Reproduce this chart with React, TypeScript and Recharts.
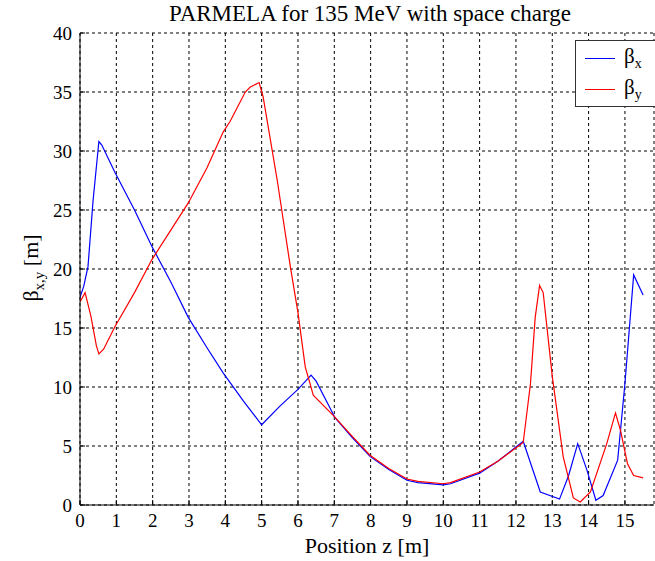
import React from "react";
import { LineChart, Line, XAxis, YAxis, CartesianGrid } from "recharts";

// beta_x samples (position z in m, beta in m)
const betaXz = [0, 0.1, 0.22, 0.36, 0.52, 0.6, 0.96, 1.5, 1.98, 2.5, 2.98, 3.5, 3.94, 4.5, 5.0, 5.51, 6.0, 6.36, 6.5, 7.02, 7.5, 7.99, 8.5, 9.0, 9.3, 10.0, 10.2, 11.0, 11.5, 12.2, 12.67, 13.2, 13.45, 13.7, 13.95, 14.2, 14.4, 14.8, 15.0, 15.24, 15.5];
const betaXv = [17.6, 18.5, 20.2, 25.8, 30.8, 30.5, 28.2, 25.0, 21.9, 18.9, 15.9, 13.3, 11.2, 8.8, 6.8, 8.4, 9.8, 11.0, 10.5, 7.4, 5.7, 4.1, 3.0, 2.1, 1.9, 1.7, 1.8, 2.7, 3.7, 5.4, 1.1, 0.5, 2.5, 5.2, 3.0, 0.4, 0.8, 3.8, 10.3, 19.5, 17.8];

// beta_y samples
const betaYz = [0, 0.14, 0.3, 0.45, 0.52, 0.65, 0.96, 1.5, 1.98, 2.5, 2.98, 3.5, 3.94, 4.13, 4.55, 4.68, 4.93, 5.04, 5.43, 5.79, 6.0, 6.2, 6.34, 6.42, 6.97, 7.5, 7.99, 8.5, 9.0, 9.3, 10.0, 10.2, 11.0, 11.5, 12.2, 12.4, 12.53, 12.65, 12.75, 13.0, 13.3, 13.58, 13.77, 14.05, 14.5, 14.74, 14.88, 15.07, 15.24, 15.5];
const betaYv = [17.2, 18.0, 16.0, 13.5, 12.8, 13.2, 15.1, 18.0, 20.8, 23.3, 25.6, 28.6, 31.6, 32.5, 35.0, 35.4, 35.8, 34.6, 27.5, 20.2, 16.3, 11.7, 10.2, 9.3, 7.6, 5.8, 4.2, 3.1, 2.2, 2.0, 1.8, 1.9, 2.8, 3.7, 5.3, 10.3, 15.9, 18.6, 18.0, 10.9, 4.1, 0.6, 0.25, 1.1, 5.2, 7.8, 6.3, 3.5, 2.5, 2.3];

const xTicks = [0, 1, 2, 3, 4, 5, 6, 7, 8, 9, 10, 11, 12, 13, 14, 15];
const yTicks = [0, 5, 10, 15, 20, 25, 30, 35, 40];

const font = "'Liberation Serif', 'DejaVu Serif', 'Times New Roman', Times, serif";

const betaX = betaXz.map((z, i) => ({ z, beta: betaXv[i] }));
const betaY = betaYz.map((z, i) => ({ z, beta: betaYv[i] }));

const XTick = ({ x, y, payload }: any) => (
    <g>
        <line x1={x} x2={x} y1={y - 8} y2={y - 13} stroke="#000" />
        <text x={x} y={y} dy="0.75em" textAnchor="middle" fontSize={19} fontFamily={font} fill="#000">
            {payload.value}
        </text>
    </g>
);

const YTick = ({ x, y, payload }: any) => (
    <g>
        <line x1={x + 8} x2={x + 13} y1={y} y2={y} stroke="#000" />
        <text x={x} y={y} dy="0.35em" textAnchor="end" fontSize={19} fontFamily={font} fill="#000">
            {payload.value}
        </text>
    </g>
);

const TopTick = ({ x, y }: any) => <line x1={x} x2={x} y1={y} y2={y + 5} stroke="#000" />;

const LegendBox = () => (
    <div
        style={{
            position: "absolute",
            left: 575,
            top: 40,
            border: "1px solid #333",
            background: "#fff",
            width: 90,
            height: 67,
            boxSizing: "border-box",
            fontFamily: font,
        }}
    >
        {[
            { color: "#0000ff", sub: "x", top: 17 },
            { color: "#ff0000", sub: "y", top: 48 },
        ].map((item) => (
            <div key={item.sub} style={{ position: "absolute", left: 9, top: item.top - 14, height: 28, display: "flex", alignItems: "center" }}>
                <span style={{ display: "inline-block", width: 30, height: 1, background: item.color }} />
                <span style={{ marginLeft: 9, fontSize: 21, color: "#000", lineHeight: 1 }}>
                    β<sub style={{ fontSize: 14, verticalAlign: "-5px" }}>{item.sub}</sub>
                </span>
            </div>
        ))}
    </div>
);

const YLabel = () => (
    <text transform="translate(38, 268) rotate(-90)" textAnchor="middle" fontSize={22} fontFamily={font} fill="#000">
        <tspan>β</tspan>
        <tspan dy={6} fontSize={15}>x,y</tspan>
        <tspan dy={-6}> [m]</tspan>
    </text>
);

const App = () => {
    return (
        <div style={{ position: "absolute", left: 0, top: 0, width: 655, height: 561, overflow: "hidden", background: "#fff" }}>
            <LineChart width={655} height={561} margin={{ top: 33, right: 1, left: 0, bottom: 0 }}>
                <CartesianGrid stroke="#000" strokeDasharray="3 3" />
                <XAxis
                    type="number"
                    dataKey="z"
                    domain={[0, 15.8]}
                    ticks={xTicks}
                    allowDataOverflow
                    height={56}
                    tickLine={false}
                    tickSize={0}
                    tickMargin={8}
                    tick={<XTick />}
                    axisLine={{ stroke: "#000" }}
                    label={{ value: "Position z [m]", position: "insideBottom", offset: 8, fontSize: 22, fontFamily: font, fill: "#000" }}
                />
                <XAxis
                    xAxisId="top"
                    orientation="top"
                    type="number"
                    dataKey="z"
                    domain={[0, 15.8]}
                    ticks={xTicks}
                    height={0}
                    tickLine={false}
                    tickSize={0}
                    tickMargin={0}
                    tick={<TopTick />}
                    axisLine={false}
                />
                <YAxis
                    type="number"
                    domain={[0, 40]}
                    ticks={yTicks}
                    width={80}
                    tickLine={false}
                    tickSize={0}
                    tickMargin={8}
                    tick={<YTick />}
                    axisLine={{ stroke: "#000" }}
                    label={<YLabel />}
                />
                <Line
                    data={betaX}
                    dataKey="beta"
                    name="βx"
                    stroke="#0000ff"
                    strokeWidth={1.2}
                    dot={false}
                    type="linear"
                    isAnimationActive={false}
                />
                <Line
                    data={betaY}
                    dataKey="beta"
                    name="βy"
                    stroke="#ff0000"
                    strokeWidth={1.2}
                    dot={false}
                    type="linear"
                    isAnimationActive={false}
                />
            </LineChart>
            <div
                style={{
                    position: "absolute",
                    top: 0,
                    left: 80,
                    width: 580,
                    textAlign: "center",
                    fontFamily: font,
                    fontSize: 23,
                    lineHeight: "27px",
                    color: "#000",
                }}
            >
                PARMELA for 135 MeV with space charge
            </div>
            <LegendBox />
        </div>
    );
};

export default App;
